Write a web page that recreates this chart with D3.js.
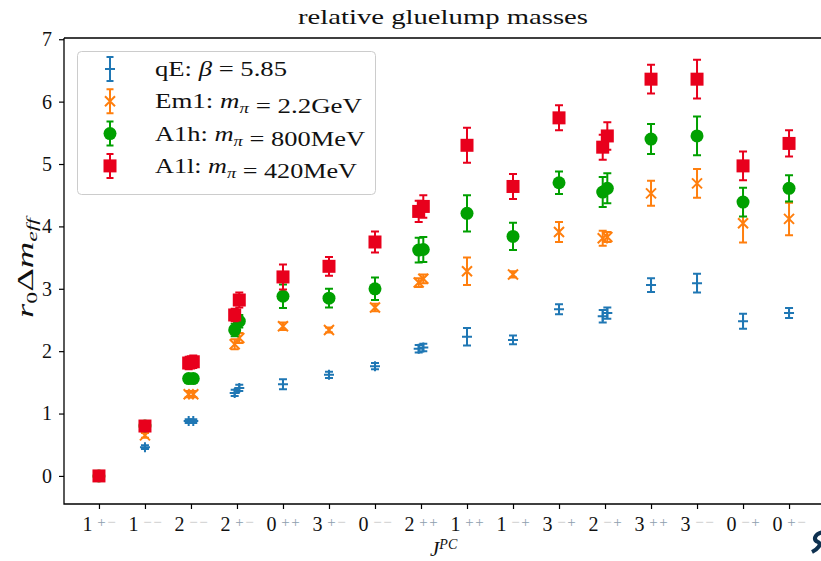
<!DOCTYPE html>
<html>
<head>
<meta charset="utf-8">
<script src="https://cdn.jsdelivr.net/npm/d3@7"></script>
<style>
  body { margin: 0; background: #fff; }
  text { font-family: "Liberation Serif", "DejaVu Serif", serif; }
</style>
</head>
<body>
<div id="chart"></div>
<script>
// J and PC of every channel on the x axis
const jValues = [1, 1, 2, 2, 0, 3, 0, 2, 1, 1, 3, 2, 3, 3, 0, 0];
const pcValues = ["+-", "--", "--", "+-", "++", "+-", "--", "++", "++", "-+", "-+", "-+", "++", "--", "-+", "+-"];

// x position of each measurement (spin 2 channels carry two points)
const xPos = [0, 1, 1.95, 2.05, 2.95, 3.05, 4, 5, 6, 6.95, 7.05, 8, 9, 10, 10.95, 11.05, 12, 13, 14, 15];

const qEVal = [0, 0.46, 0.88, 0.88, 1.33, 1.41, 1.47, 1.62, 1.76, 2.04, 2.06, 2.23, 2.18, 2.67, 2.56, 2.61, 3.06, 3.09, 2.48, 2.61];
const qEErr = [0.02, 0.03, 0.03, 0.03, 0.05, 0.05, 0.08, 0.05, 0.05, 0.06, 0.06, 0.14, 0.07, 0.08, 0.1, 0.09, 0.11, 0.15, 0.12, 0.08];

const em1Val = [0, 0.65, 1.31, 1.31, 2.11, 2.21, 2.40, 2.34, 2.70, 3.10, 3.16, 3.28, 3.23, 3.91, 3.81, 3.83, 4.53, 4.69, 4.05, 4.12];
const em1Err = [0.02, 0.04, 0.05, 0.05, 0.08, 0.08, 0.06, 0.04, 0.06, 0.07, 0.07, 0.22, 0.05, 0.16, 0.12, 0.08, 0.2, 0.23, 0.31, 0.26];

const a1hVal = [0, 0.8, 1.56, 1.56, 2.34, 2.48, 2.88, 2.85, 3.0, 3.62, 3.63, 4.21, 3.84, 4.7, 4.55, 4.61, 5.4, 5.45, 4.39, 4.61];
const a1hErr = [0.02, 0.04, 0.06, 0.06, 0.1, 0.1, 0.19, 0.15, 0.18, 0.2, 0.2, 0.29, 0.22, 0.18, 0.24, 0.24, 0.24, 0.31, 0.23, 0.21];

const a1lVal = [0, 0.8, 1.81, 1.83, 2.58, 2.82, 3.19, 3.36, 3.75, 4.24, 4.32, 5.3, 4.64, 5.74, 5.27, 5.45, 6.36, 6.36, 4.97, 5.33];
const a1lErr = [0.02, 0.05, 0.1, 0.1, 0.1, 0.12, 0.2, 0.15, 0.17, 0.17, 0.18, 0.28, 0.2, 0.2, 0.2, 0.22, 0.23, 0.31, 0.23, 0.21];

const yTicks = [0, 1, 2, 3, 4, 5, 6, 7];

const series = [
	{ name: "qE", label: ["qE: ", ["β", "i"], " = 5.85"], marker: "plus", color: "#1f77b4", val: qEVal, err: qEErr, w: 132 },
	{ name: "Em1", label: ["Em1: ", ["m", "i"], ["π", "sub"], " = 2.2GeV"], marker: "x", color: "#ff7f0e", val: em1Val, err: em1Err, w: 207 },
	{ name: "A1h", label: ["A1h: ", ["m", "i"], ["π", "sub"], " = 800MeV"], marker: "circle", color: "#00a000", val: a1hVal, err: a1hErr, w: 210 },
	{ name: "A1l", label: ["A1l: ", ["m", "i"], ["π", "sub"], " = 420MeV"], marker: "square", color: "#e8001c", val: a1lVal, err: a1lErr, w: 202 }
];

const outerwidth = 821;
const outerheight = 561;
const mLeft = 64, mTop = 38, mRight = 824, mBottom = 504;

const svg = d3.select("#chart").append("svg")
	.attr("width", outerwidth)
	.attr("height", outerheight);

const xscale = d3.scaleLinear().domain([-0.76, 15.76]).range([mLeft, mRight]);
const yscale = d3.scaleLinear().domain([-0.45, 7.02]).range([mBottom, mTop]);

// draw a marker of given type centred at 0,0
function drawMarker(g, type, color) {
	if (type == "plus") {
		g.append("path").attr("d", "M-5,0H5M0,-5V5").attr("stroke", color).attr("stroke-width", 2).attr("fill", "none");
	} else if (type == "x") {
		g.append("path").attr("d", "M-5,-5L5,5M-5,5L5,-5").attr("stroke", color).attr("stroke-width", 2).attr("fill", "none");
	} else if (type == "circle") {
		g.append("circle").attr("r", 6.5).attr("fill", color);
	} else {
		g.append("rect").attr("x", -6.5).attr("y", -6.5).attr("width", 13).attr("height", 13).attr("fill", color);
	}
}

function errorBar(g, y1, y2, color, cap) {
	g.append("path")
		.attr("d", `M0,${y1}V${y2}M${-cap},${y1}H${cap}M${-cap},${y2}H${cap}`)
		.attr("stroke", color).attr("stroke-width", 2).attr("fill", "none");
}

const plot = svg.append("g");
series.forEach(s => {
	const gs = plot.append("g");
	xPos.forEach((x, i) => {
		const g = gs.append("g").attr("transform", `translate(${xscale(x)},${yscale(s.val[i])})`);
		const y1 = yscale(s.val[i] + s.err[i]) - yscale(s.val[i]);
		const y2 = yscale(s.val[i] - s.err[i]) - yscale(s.val[i]);
		errorBar(g, y1, y2, s.color, 4);
		drawMarker(g, s.marker, s.color);
	});
});

// axes: y
const yaxis = svg.append("g").attr("transform", `translate(${mLeft},0)`)
	.call(d3.axisLeft(yscale).tickValues(yTicks).tickSize(5).tickPadding(7).tickFormat(d3.format("d")));
yaxis.select(".domain").remove();
yaxis.selectAll(".tick line").attr("stroke", "#000").attr("stroke-width", 1.2);
yaxis.selectAll(".tick text").attr("font-size", 20).attr("font-family", "Liberation Serif").attr("fill", "#111");

// axes: x
const xaxis = svg.append("g").attr("transform", `translate(0,${mBottom})`)
	.call(d3.axisBottom(xscale).tickValues(d3.range(jValues.length)).tickSize(5).tickFormat(""));
xaxis.select(".domain").remove();
xaxis.selectAll(".tick line").attr("stroke", "#000").attr("stroke-width", 1.2);
xaxis.selectAll(".tick").each(function(d) {
	const t = d3.select(this).append("text")
		.attr("y", 27).attr("x", -12).attr("text-anchor", "middle")
		.attr("font-size", 20).attr("fill", "#111");
	t.append("tspan").text(jValues[d]);
	const pc = pcValues[d];
	for (let k = 0; k < 2; k++) {
		t.append("tspan")
			.attr("x", 2 + k * 10).attr("dy", k == 0 ? -4 : 0)
			.attr("text-anchor", "middle")
			.attr("font-size", 15)
			.attr("fill", pc[k] == "+" ? "#8d9eae" : "#c6c6c6")
			.text(pc[k] == "+" ? "+" : "−");
	}
});

// spines
svg.append("path")
	.attr("d", `M${mLeft},${mTop}V${mBottom}H${mRight}M${mLeft},${mTop}H${mRight}`)
	.attr("stroke", "#000").attr("stroke-width", 1.3).attr("fill", "none");

// title and labels
svg.append("text").attr("x", 443).attr("y", 24).attr("text-anchor", "middle")
	.attr("font-size", 21).attr("fill", "#111")
	.attr("textLength", 290).attr("lengthAdjust", "spacingAndGlyphs")
	.text("relative gluelump masses");

const xl = svg.append("text").attr("x", 430).attr("y", 556).attr("font-size", 21).attr("fill", "#111");
xl.append("tspan").attr("font-style", "italic").text("J");
xl.append("tspan").attr("font-style", "italic").attr("font-size", 14).attr("dy", -7).text("PC");

const yl = svg.append("text").attr("transform", "translate(33,268) rotate(-90)")
	.attr("text-anchor", "middle").attr("font-size", 23).attr("fill", "#111")
	.attr("textLength", 100).attr("lengthAdjust", "spacingAndGlyphs");
yl.append("tspan").attr("font-style", "italic").text("r");
yl.append("tspan").attr("font-size", 15).attr("dy", 4).text("0");
yl.append("tspan").attr("dy", -4).text("Δ");
yl.append("tspan").attr("font-style", "italic").text("m");
yl.append("tspan").attr("font-style", "italic").attr("font-size", 15).attr("dy", 4).text("eff");

// dark mark cut at the right edge of the image
svg.append("path")
	.attr("d", "M823,532 C814,534 813,540 818,542 C822,544 818,549 812,552")
	.attr("stroke", "#0e3150").attr("stroke-width", 4).attr("fill", "none");

// legend
const legend = svg.append("g");
legend.append("rect")
	.attr("x", 77.5).attr("y", 51.5).attr("width", 298).attr("height", 143).attr("rx", 4)
	.attr("fill", "#fff").attr("fill-opacity", 0.8).attr("stroke", "#cccccc").attr("stroke-width", 1);
series.forEach((s, i) => {
	const cy = 69 + i * 32.3;
	const g = legend.append("g").attr("transform", `translate(110,${cy})`);
	errorBar(g, -12, 12, s.color, 3.5);
	drawMarker(g, s.marker, s.color);
	const t = legend.append("text").attr("x", 155).attr("y", cy + 7).attr("font-size", 20).attr("fill", "#111")
		.attr("textLength", s.w).attr("lengthAdjust", "spacingAndGlyphs")
		.style("white-space", "pre");
	s.label.forEach(p => {
		if (typeof p == "string") {
			t.append("tspan").text(p);
		} else if (p[1] == "i") {
			t.append("tspan").attr("font-style", "italic").text(p[0]);
		} else {
			t.append("tspan").attr("font-style", "italic").attr("font-size", 14).attr("dy", 5).text(p[0]);
			t.append("tspan").attr("dy", -5).text("");
		}
	});
});
</script>
</body>
</html>
